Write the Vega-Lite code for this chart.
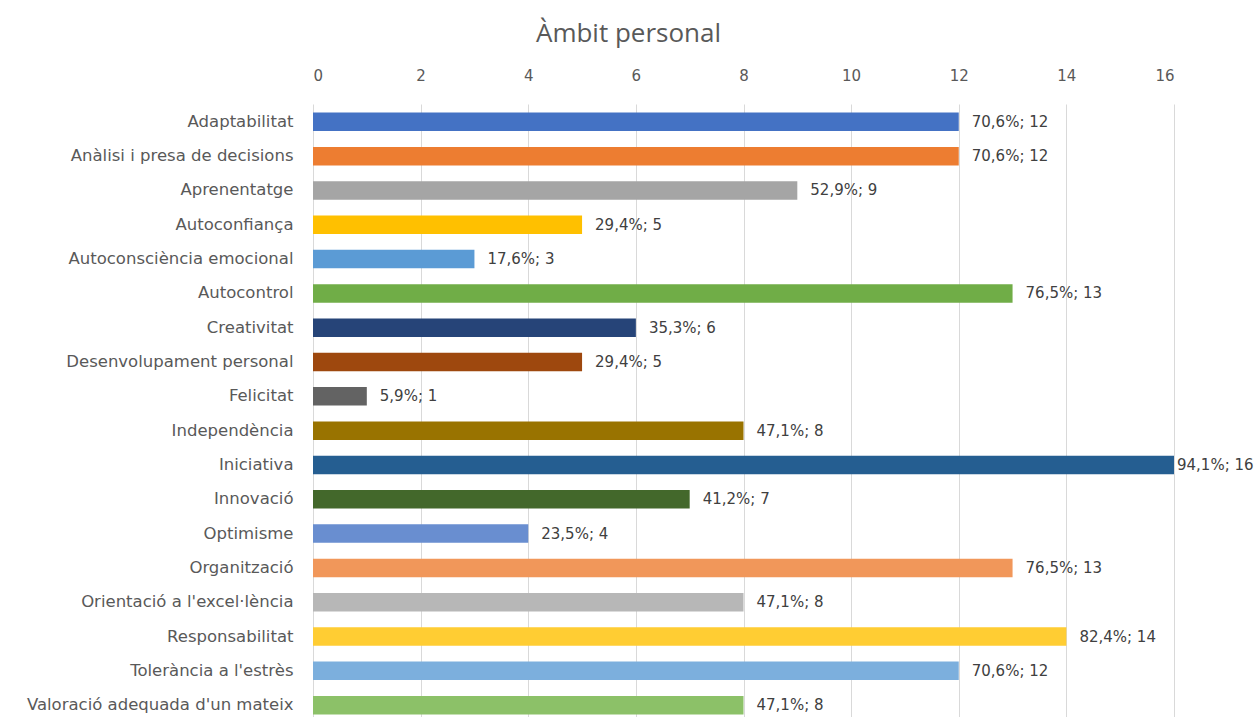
{
  "$schema": "https://vega.github.io/schema/vega-lite/v6.json",
  "width": 861,
  "height": 619,
  "autosize": {"type": "none"},
  "padding": {"left": 313, "top": 104, "right": 81, "bottom": 0},
  "background": "white",
  "config": {
    "view": {"stroke": null},
    "font": "DejaVu Sans"
  },
  "title": {
    "text": "Àmbit personal",
    "font": "Open Sans",
    "fontSize": 26,
    "fontWeight": "normal",
    "color": "#595959",
    "anchor": "middle",
    "dx": -115,
    "offset": 21
  },
  "data": {
    "values": [
      {"competencia": "Adaptabilitat", "n": 12, "pct": "70,6%"},
      {"competencia": "Anàlisi i presa de decisions", "n": 12, "pct": "70,6%"},
      {"competencia": "Aprenentatge", "n": 9, "pct": "52,9%"},
      {"competencia": "Autoconfiança", "n": 5, "pct": "29,4%"},
      {"competencia": "Autoconsciència emocional", "n": 3, "pct": "17,6%"},
      {"competencia": "Autocontrol", "n": 13, "pct": "76,5%"},
      {"competencia": "Creativitat", "n": 6, "pct": "35,3%"},
      {"competencia": "Desenvolupament personal", "n": 5, "pct": "29,4%"},
      {"competencia": "Felicitat", "n": 1, "pct": "5,9%"},
      {"competencia": "Independència", "n": 8, "pct": "47,1%"},
      {"competencia": "Iniciativa", "n": 16, "pct": "94,1%"},
      {"competencia": "Innovació", "n": 7, "pct": "41,2%"},
      {"competencia": "Optimisme", "n": 4, "pct": "23,5%"},
      {"competencia": "Organització", "n": 13, "pct": "76,5%"},
      {"competencia": "Orientació a l'excel·lència", "n": 8, "pct": "47,1%"},
      {"competencia": "Responsabilitat", "n": 14, "pct": "82,4%"},
      {"competencia": "Tolerància a l'estrès", "n": 12, "pct": "70,6%"},
      {"competencia": "Valoració adequada d'un mateix", "n": 8, "pct": "47,1%"}
    ]
  },
  "encoding": {
    "y": {
      "field": "competencia",
      "type": "nominal",
      "sort": null,
      "title": null,
      "scale": {"paddingInner": 0.46, "paddingOuter": 0.25},
      "axis": {
        "ticks": false,
        "domain": false,
        "labelFontSize": 16.5,
        "labelColor": "#595959",
        "labelPadding": 20,
        "labelLimit": 320
      }
    }
  },
  "layer": [
    {
      "mark": {"type": "bar"},
      "encoding": {
        "x": {
          "field": "n",
          "type": "quantitative",
          "title": null,
          "scale": {"domain": [0, 16], "nice": false},
          "axis": {
            "orient": "top",
            "values": [0, 2, 4, 6, 8, 10, 12, 14, 16],
            "domain": false,
            "ticks": false,
            "labelFontSize": 15,
            "labelColor": "#595959",
            "labelPadding": 21,
            "gridColor": "#d9d9d9",
            "gridWidth": 1
          }
        },
        "color": {
          "field": "competencia",
          "type": "nominal",
          "sort": null,
          "legend": null,
          "scale": {
            "range": ["#4472C4", "#ED7D31", "#A5A5A5", "#FFC000", "#5B9BD5", "#70AD47", "#264478", "#9E480E", "#636363", "#997300", "#255E91", "#43682B", "#698ED0", "#F1975A", "#B7B7B7", "#FFCD33", "#7CAFDD", "#8CC168"]
          }
        }
      }
    },
    {
      "transform": [{"filter": "datum.n < 16"}],
      "mark": {"type": "text", "align": "left", "dx": 13, "fontSize": 15, "color": "#404040"},
      "encoding": {
        "x": {"field": "n", "type": "quantitative"},
        "text": {"value": {"expr": "datum.pct + '; ' + datum.n"}}
      }
    },
    {
      "transform": [{"filter": "datum.n >= 16"}],
      "mark": {"type": "text", "align": "left", "dx": 3, "fontSize": 15, "color": "#404040"},
      "encoding": {
        "x": {"field": "n", "type": "quantitative"},
        "text": {"value": {"expr": "datum.pct + '; ' + datum.n"}}
      }
    }
  ]
}
